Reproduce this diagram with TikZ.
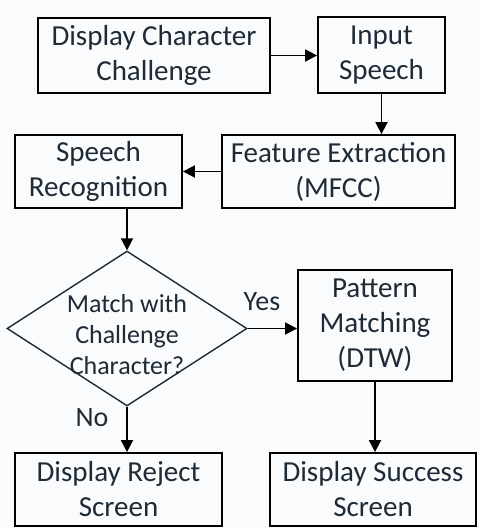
\documentclass[tikz,border=0pt]{standalone}
\usepackage{fontspec}
\setmainfont{Carlito}
\usetikzlibrary{arrows.meta,shapes.geometric}
\definecolor{ink}{HTML}{1E2B36}
\definecolor{paper}{HTML}{FAFBFD}
\begin{document}
\begin{tikzpicture}[
          x=1pt, y=-1pt,
          every node/.style={text=ink},
          box/.style={draw, line width=1.8pt, inner sep=0pt, align=center,
                      font=\fontsize{29}{35}\selectfont},
          decision/.style={draw=ink, line width=1.4pt, diamond, inner sep=0pt,
                           minimum width=240pt, minimum height=155pt, aspect=1.55},
          arr/.style={line width=1.8pt, -{Triangle[length=12pt,width=12pt]}},
          lbl/.style={font=\fontsize{28}{32}\selectfont}]
            \fill[paper] (0,0) rectangle (480,528);
            \useasboundingbox (0,0) rectangle (480,528);

            \node[box, minimum width=232pt, minimum height=75pt] (chal) at (154,55.5) {Display Character\\Challenge};
            \node[box, minimum width=127pt, minimum height=76pt] (input) at (381.5,55) {Input\\Speech};

            \node[box, minimum width=233pt, minimum height=73pt] (feat) at (338.5,171.5) {Feature Extraction\\(MFCC)};
            \node[box, minimum width=167pt, minimum height=73pt] (recog) at (98.5,171.5) {Speech\\Recognition};

            \node[decision] (match) at (127,328.5) {};
            \node[align=center, font=\fontsize{26}{31}\selectfont] (matchtxt) at (127,335) {Match with\\Challenge\\Character?};
            \node[box, minimum width=154pt, minimum height=111pt] (pattern) at (375,325.5) {Pattern\\Matching\\(DTW)};

            \node[box, minimum width=207pt, minimum height=73pt] (reject) at (118.5,489.5) {Display Reject\\Screen};
            \node[box, minimum width=206pt, minimum height=73pt] (success) at (373,489.5) {Display Success\\Screen};

            \draw[arr] (chal.east) -- (chal.east -| input.west);
            \draw[arr] (input.south) -- (input.south |- feat.north);
            \draw[arr] (feat.west) -- (recog.east);
            \draw[arr] (recog.south -| match.north) -- (match.north);

            % yes / no
            \draw[arr] (match.east) -- (match.east -| pattern.west);
            \draw[arr] (match.south) -- (match.south |- reject.north);
            \draw[arr] (pattern.south) -- (pattern.south |- success.north);

            \node[lbl] (yes) at (262,302) {Yes};
            \node[lbl] (no) at (92,418) {No};
          \end{tikzpicture}
\end{document}
